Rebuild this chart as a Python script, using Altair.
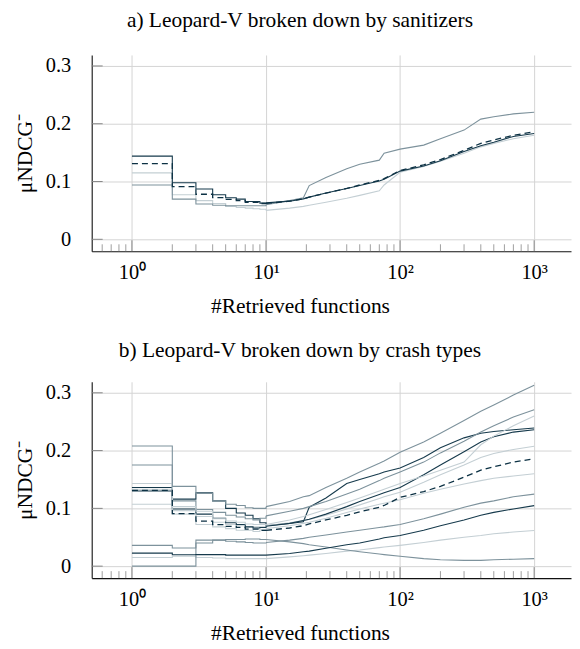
import altair as alt
import pandas as pd

FONT = "Liberation Serif"

# ---------------- data ----------------
X_HEAD = [1, 2, 3, 4, 5, 6, 7, 8, 9, 10]
X_TAIL = [10, 15, 19, 21, 28, 40, 50, 70, 76, 100, 150, 200, 300, 400, 500, 700, 1000]

ALL_HEAD = [0.131, 0.091, 0.078, 0.072, 0.069, 0.067, 0.064, 0.064, 0.062, 0.062]
ALL_TAIL = [0.062, 0.066, 0.070, 0.073, 0.080, 0.088, 0.094, 0.102, 0.105, 0.119, 0.129, 0.138, 0.154, 0.166, 0.172, 0.180, 0.186]

SAN_NAMES = ["san_light", "san_gray", "san_dark"]
SAN_COLORS = ["#c4cfd4", "#7d929c", "#163a4c"]
SAN_HEAD = {
    "san_light": [0.115, 0.077, 0.067, 0.062, 0.057, 0.055, 0.054, 0.053, 0.052, 0.050],
    "san_gray": [0.094, 0.0695, 0.061, 0.059, 0.058, 0.058, 0.058, 0.058, 0.058, 0.060],
    "san_dark": [0.144, 0.098, 0.087, 0.077, 0.072, 0.0695, 0.0655, 0.0655, 0.0626, 0.063],
}
SAN_TAIL = {
    "san_light": [0.050, 0.054, 0.057, 0.059, 0.064, 0.071, 0.076, 0.084, 0.094, 0.116, 0.126, 0.135, 0.149, 0.160, 0.166, 0.174, 0.180],
    "san_gray": [0.060, 0.067, 0.072, 0.093, 0.107, 0.122, 0.130, 0.137, 0.149, 0.156, 0.163, 0.174, 0.189, 0.208, 0.212, 0.217, 0.220],
    "san_dark": [0.063, 0.066, 0.070, 0.073, 0.080, 0.088, 0.093, 0.101, 0.104, 0.118, 0.127, 0.136, 0.152, 0.162, 0.168, 0.178, 0.183],
}

CT_NAMES = ["J", "H", "D", "F", "K", "E", "G", "B", "I", "C", "A"]
CT_COLORS = ["#bcc8ce", "#b2c0c7", "#a8b7bf", "#8fa2ac", "#7c919c", "#7a909b",
             "#5f7886", "#3f5c6b", "#2e4c5c", "#1b3d4f", "#0c3144"]
CT_HEAD = {
    "A": [0.208, 0.138, 0.126, 0.113, 0.107, 0.105, 0.101, 0.100, 0.100, 0.103],
    "B": [0.175, 0.113, 0.098, 0.093, 0.088, 0.085, 0.082, 0.080, 0.083, 0.087],
    "C": [0.143, 0.103, 0.095, 0.082, 0.078, 0.076, 0.073, 0.072, 0.072, 0.072],
    "D": [0.130, 0.116, 0.127, 0.113, 0.100, 0.092, 0.088, 0.082, 0.075, 0.070],
    "E": [0.136, 0.099, 0.090, 0.083, 0.075, 0.072, 0.068, 0.066, 0.067, 0.069],
    "F": [0.133, 0.096, 0.086, 0.076, 0.072, 0.070, 0.068, 0.068, 0.068, 0.070],
    "G": [0.107, 0.090, 0.072, 0.068, 0.065, 0.062, 0.062, 0.060, 0.063, 0.065],
    "H": [0.036, 0.0315, 0.045, 0.045, 0.043, 0.042, 0.041, 0.040, 0.040, 0.041],
    "I": [0.0225, 0.0198, 0.020, 0.020, 0.019, 0.019, 0.019, 0.019, 0.019, 0.019],
    "J": [0.015, 0.017, 0.015, 0.014, 0.013, 0.013, 0.013, 0.013, 0.013, 0.013],
    "K": [0.0, 0.0, 0.040, 0.045, 0.046, 0.046, 0.047, 0.047, 0.046, 0.046],
}
CT_TAIL = {
    "A": [0.103, 0.112, 0.120, 0.122, 0.136, 0.152, 0.163, 0.178, 0.182, 0.197, 0.215, 0.230, 0.252, 0.268, 0.279, 0.296, 0.313],
    "B": [0.087, 0.095, 0.100, 0.103, 0.112, 0.125, 0.133, 0.148, 0.152, 0.163, 0.180, 0.196, 0.216, 0.232, 0.243, 0.258, 0.2705],
    "C": [0.072, 0.080, 0.086, 0.089, 0.098, 0.110, 0.118, 0.130, 0.133, 0.143, 0.156, 0.166, 0.180, 0.210, 0.225, 0.243, 0.260],
    "D": [0.070, 0.074, 0.077, 0.102, 0.118, 0.143, 0.150, 0.160, 0.163, 0.170, 0.188, 0.205, 0.222, 0.230, 0.233, 0.236, 0.239],
    "E": [0.069, 0.074, 0.079, 0.081, 0.090, 0.103, 0.112, 0.124, 0.127, 0.136, 0.158, 0.175, 0.198, 0.215, 0.224, 0.232, 0.236],
    "F": [0.070, 0.075, 0.079, 0.081, 0.088, 0.099, 0.106, 0.117, 0.120, 0.128, 0.145, 0.158, 0.175, 0.188, 0.195, 0.202, 0.2076],
    "G": [0.065, 0.070, 0.074, 0.076, 0.083, 0.093, 0.099, 0.107, 0.109, 0.115, 0.126, 0.133, 0.142, 0.148, 0.152, 0.156, 0.160],
    "H": [0.041, 0.045, 0.048, 0.050, 0.054, 0.059, 0.062, 0.067, 0.068, 0.072, 0.082, 0.090, 0.102, 0.109, 0.113, 0.120, 0.1247],
    "I": [0.019, 0.022, 0.025, 0.026, 0.031, 0.037, 0.040, 0.047, 0.049, 0.053, 0.062, 0.070, 0.080, 0.088, 0.093, 0.099, 0.1047],
    "J": [0.013, 0.016, 0.018, 0.019, 0.022, 0.026, 0.028, 0.032, 0.033, 0.036, 0.041, 0.045, 0.050, 0.053, 0.056, 0.059, 0.0618],
    "K": [0.046, 0.042, 0.039, 0.037, 0.033, 0.028, 0.025, 0.021, 0.020, 0.017, 0.013, 0.011, 0.010, 0.010, 0.011, 0.012, 0.013],
}

X_TICKS = [1, 10, 100, 1000]
X_LABELS = ["10⁰", "10¹", "10²", "10³"]
X_MINOR = [0.6, 0.7, 0.8, 0.9, 2, 3, 4, 5, 6, 7, 8, 9, 20, 30, 40, 50, 60, 70, 80, 90,
           200, 300, 400, 500, 600, 700, 800, 900]
Y_TICKS = [0, 0.1, 0.2, 0.3]
X_DOMAIN = [0.501, 1883]
Y_DOMAIN = [-0.0207, 0.319]

TITLE_A = "a) Leopard-V broken down by sanitizers"
TITLE_B = "b) Leopard-V broken down by crash types"
X_TITLE = "#Retrieved functions"
Y_TITLE = "μNDCG⁻"

W, H = 481, 197
FS_T = 21.5
FS_L = 20.5


def build_df(names, head, tail):
    rows = []
    for n in names:
        for x, v in zip(X_HEAD, head[n]):
            rows.append({"series": n, "x": x, "v": v, "part": "head"})
        for x, v in zip(X_TAIL, tail[n]):
            rows.append({"series": n, "x": x, "v": v, "part": "tail"})
    return pd.DataFrame(rows)


all_df = build_df(["all"], {"all": ALL_HEAD}, {"all": ALL_TAIL})
label_expr = " : ".join(
    f"datum.value == {t} ? '{l}'" for t, l in zip(X_TICKS[:-1], X_LABELS[:-1])
) + f" : '{X_LABELS[-1]}'"

x_enc = alt.X("x:Q", scale=alt.Scale(type="log", domain=X_DOMAIN, nice=False),
              axis=alt.Axis(values=X_TICKS, labelExpr=label_expr, title=X_TITLE,
                            grid=True, ticks=False, labelPadding=11,
                            titlePadding=13, titleX=209, titleAlign="center",
                            labelFlush=False))
y_enc = alt.Y("v:Q", scale=alt.Scale(domain=Y_DOMAIN, nice=False, zero=False),
              axis=alt.Axis(values=Y_TICKS, format="~g", title=Y_TITLE, grid=True,
                            ticks=False, labelPadding=21, titlePadding=9))

minor_df = pd.DataFrame({"x": X_MINOR})
major_df = pd.DataFrame({"x": X_TICKS})
yt_df = pd.DataFrame({"v": Y_TICKS})


def panel(df, names, colors, title, toff):
    color = alt.Color("series:N", scale=alt.Scale(domain=names, range=colors), legend=None)
    base = alt.Chart(df)
    head = base.transform_filter("datum.part == 'head'").mark_line(
        interpolate="step-after", strokeWidth=1.1).encode(x=x_enc, y=y_enc, color=color)
    tail = base.transform_filter("datum.part == 'tail'").mark_line(
        strokeWidth=1.1).encode(x=x_enc, y=y_enc, color=color)
    dbase = alt.Chart(all_df)
    dhead = dbase.transform_filter("datum.part == 'head'").mark_line(
        interpolate="step-after", strokeWidth=1.3, strokeDash=[6, 4], color="#0c3144"
    ).encode(x=x_enc, y=y_enc)
    dtail = dbase.transform_filter("datum.part == 'tail'").mark_line(
        strokeWidth=1.3, strokeDash=[6, 4], color="#0c3144"
    ).encode(x=x_enc, y=y_enc)
    minor = alt.Chart(minor_df).mark_rule(color="#888888", strokeWidth=0.8).encode(
        x=x_enc, y=alt.value(H), y2=alt.value(H - 7))
    major = alt.Chart(major_df).mark_rule(color="#888888", strokeWidth=1).encode(
        x=x_enc, y=alt.value(H), y2=alt.value(H - 11))
    yt = alt.Chart(yt_df).mark_rule(color="#888888", strokeWidth=1).encode(
        y=y_enc, x=alt.value(0), x2=alt.value(11))
    return alt.layer(minor, major, yt, head, tail, dhead, dtail).properties(
        width=W, height=H,
        title=alt.TitleParams(text=title, font=FONT, fontSize=FS_T, fontWeight="normal",
                              color="black", dx=-31.5, offset=toff))


san_df = build_df(SAN_NAMES, SAN_HEAD, SAN_TAIL)
ct_df = build_df(CT_NAMES, CT_HEAD, CT_TAIL)

chart = alt.vconcat(
    panel(san_df, SAN_NAMES, SAN_COLORS, TITLE_A, 24),
    panel(ct_df, CT_NAMES, CT_COLORS, TITLE_B, 20),
    spacing=22,
).properties(
    padding={"left": 5, "top": 0, "right": 0, "bottom": 0}
).configure_view(stroke="transparent").configure_axis(
    labelFont=FONT, titleFont=FONT, labelFontSize=FS_L, titleFontSize=FS_T,
    labelColor="black", titleColor="black", titleFontWeight="normal",
    gridColor="#d4d4d4", gridWidth=1, domainColor="#111111", domainWidth=1.1
)

chart.save("out.html", embed_options={"renderer": "svg", "actions": False})
